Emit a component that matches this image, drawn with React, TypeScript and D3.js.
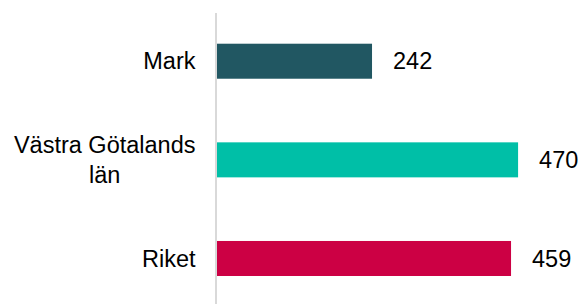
import { scaleBand, scaleLinear } from "d3"

const categories = ["Mark", "Västra Götalands län", "Riket"]
const values = [242, 470, 459]
const colors = ["#215762", "#00bfa7", "#cc0044"]
const labelLines = [["Mark"], ["Västra Götalands", "län"], ["Riket"]]

const WIDTH = 582
const HEIGHT = 304
const FONT = "Liberation Sans, Arial, sans-serif"
const FONT_SIZE = 23.5
const AXIS_X = 216

function measure(text: string) {
  const canvas = document.createElement("canvas")
  const ctx = canvas.getContext("2d")
  if (!ctx) return text.length * FONT_SIZE * 0.5
  ctx.font = `${FONT_SIZE}px "Liberation Sans"`
  return ctx.measureText(text).width
}

export default function App() {
  const x = scaleLinear().domain([0, 500]).range([AXIS_X + 1, AXIS_X + 1 + 320.3])
  const y = scaleBand()
    .domain(categories)
    .range([11.9, 307.8])
    .paddingInner(0.645)
    .paddingOuter(0.3225)

  const labelRight = 195.5

  return (
    <svg
      width={WIDTH}
      height={HEIGHT}
      style={{ position: "absolute", left: 0, top: 0, background: "#fff" }}
      fontFamily={FONT}
      fontSize={FONT_SIZE}
    >
      <line x1={AXIS_X} x2={AXIS_X} y1={13} y2={HEIGHT} stroke="#d9d9d9" strokeWidth={2} />
      {categories.map((c, i) => {
        const y0 = y(c) ?? 0
        const bw = y.bandwidth()
        const cy = y0 + bw / 2
        const lines = labelLines[i]
        const maxW = Math.max(...lines.map(measure))
        const lineGap = FONT_SIZE * 1.25
        const startY = cy - ((lines.length - 1) * lineGap) / 2
        return (
          <g key={c}>
            <rect x={x(0)} y={y0} width={x(values[i]) - x(0)} height={bw} fill={colors[i]} />
            {lines.map((ln, j) => (
              <text
                key={j}
                x={lines.length > 1 ? labelRight - maxW / 2 : labelRight}
                y={startY + j * lineGap}
                dy="0.35em"
                textAnchor={lines.length > 1 ? "middle" : "end"}
                fill="#000"
              >
                {ln}
              </text>
            ))}
            <text x={x(values[i]) + 21} y={cy} dy="0.35em" fill="#000">
              {values[i]}
            </text>
          </g>
        )
      })}
    </svg>
  )
}
